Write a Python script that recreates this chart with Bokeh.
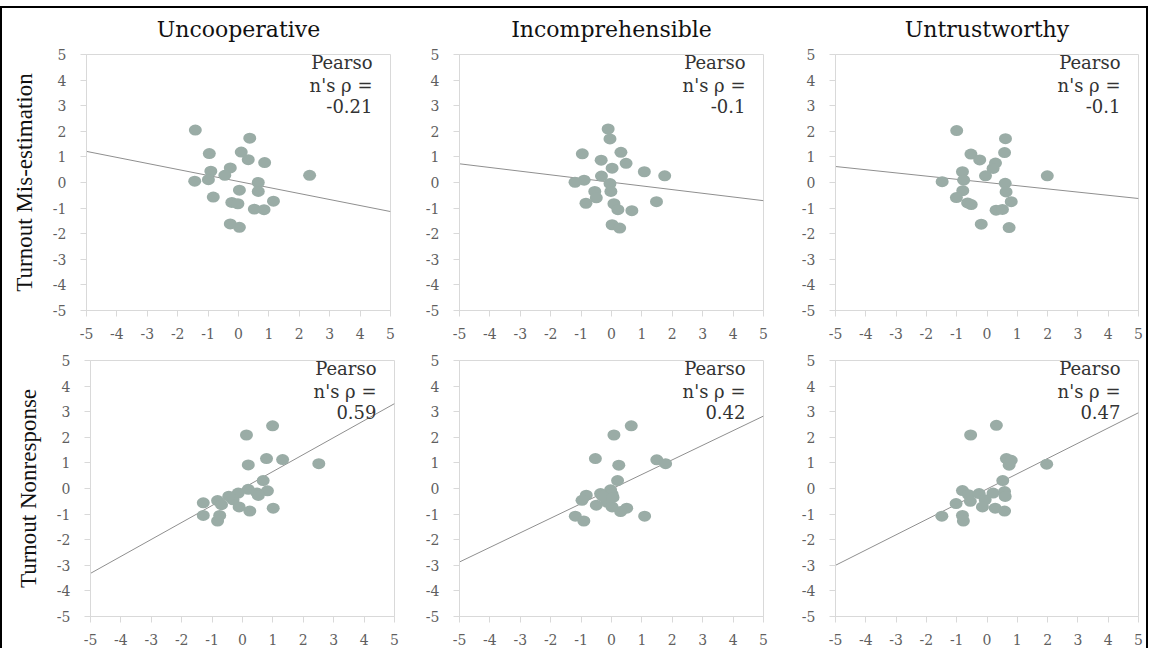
from bokeh.plotting import figure
from bokeh.layouts import column, row
from bokeh.models import FixedTicker, Label, Range1d
from bokeh.embed import file_html
from bokeh.resources import INLINE

# ---------------- data ----------------
categories = ["Uncooperative", "Incomprehensible", "Untrustworthy"]
row_labels = ["Turnout Mis-estimation", "Turnout Nonresponse"]
tick_values = [-5, -4, -3, -2, -1, 0, 1, 2, 3, 4, 5]
tick_labels = ["-5", "-4", "-3", "-2", "-1", "0", "1", "2", "3", "4", "5"]

# Row 1: Turnout Mis-estimation
mis_uncoop_x = [-1.42, 0.37, -0.96, 0.09, 0.32, 0.86, -0.27, -0.91, -0.45, -0.99, -1.44, 2.34,
                0.65, 0.03, 0.65, -0.83, 1.15, -0.22, -0.02, 0.52, 0.84, -0.27, 0.03]
mis_uncoop_y = [2.05, 1.73, 1.13, 1.19, 0.89, 0.78, 0.57, 0.44, 0.28, 0.11, 0.05, 0.28,
                0.00, -0.30, -0.35, -0.57, -0.73, -0.78, -0.83, -1.04, -1.06, -1.62, -1.75]
mis_incomp_x = [-0.11, -0.05, -0.96, 0.31, -0.34, 0.48, 0.02, 1.08, 1.75, -0.33, -0.90, -1.20,
                -0.05, -0.02, -0.55, -0.50, -0.84, 1.48, 0.08, 0.21, 0.67, 0.02, 0.27]
mis_incomp_y = [2.09, 1.70, 1.12, 1.18, 0.87, 0.75, 0.56, 0.42, 0.26, 0.25, 0.09, 0.01,
                -0.04, -0.35, -0.35, -0.60, -0.81, -0.75, -0.83, -1.06, -1.10, -1.65, -1.78]
mis_untrust_x = [-1.00, 0.61, -0.53, 0.58, -0.24, 0.28, 0.20, -0.81, -0.05, 1.99, -0.77, -1.48,
                 0.60, -0.80, 0.63, -1.01, 0.80, -0.64, -0.52, 0.30, 0.51, -0.19, 0.73]
mis_untrust_y = [2.03, 1.71, 1.11, 1.17, 0.88, 0.76, 0.55, 0.42, 0.26, 0.26, 0.09, 0.03,
                 -0.03, -0.32, -0.37, -0.59, -0.75, -0.80, -0.86, -1.08, -1.05, -1.63, -1.76]

# Row 2: Turnout Nonresponse
non_uncoop_x = [0.99, 0.13, 0.19, 0.79, 1.32, 2.51, 0.68, 0.19, -0.14, 0.48, 0.82, 0.52,
                -0.31, -0.82, -1.29, -0.69, -0.11, 0.24, 1.01, -1.29, -0.75, -0.82, -0.45]
non_uncoop_y = [2.45, 2.09, 0.92, 1.17, 1.13, 0.97, 0.31, -0.03, -0.18, -0.18, -0.09, -0.27,
                -0.44, -0.47, -0.56, -0.63, -0.72, -0.88, -0.77, -1.05, -1.05, -1.27, -0.30]
non_incomp_x = [0.65, 0.08, -0.53, 0.24, 1.49, 1.78, 0.20, -0.03, -0.36, 0.02, -0.83, -0.97,
                -0.14, -0.50, 0.02, 0.50, 0.30, 1.09, -1.19, -0.91, -0.30, 0.05]
non_incomp_y = [2.45, 2.09, 1.17, 0.91, 1.12, 0.97, 0.31, -0.05, -0.20, -0.22, -0.26, -0.46,
                -0.54, -0.65, -0.72, -0.77, -0.90, -1.08, -1.08, -1.27, -0.30, -0.35]
non_untrust_x = [0.31, -0.54, 0.64, 0.80, 0.73, 1.97, 0.52, -0.81, -0.61, -0.26, 0.20, 0.58,
                 0.60, -0.06, -0.55, -1.02, -0.15, 0.27, 0.58, -1.49, -0.81, -0.78]
non_untrust_y = [2.47, 2.09, 1.17, 1.10, 0.91, 0.95, 0.31, -0.08, -0.24, -0.20, -0.18, -0.12,
                 -0.31, -0.44, -0.50, -0.59, -0.72, -0.77, -0.88, -1.08, -1.05, -1.27]

rho_mis = ["-0.21", "-0.1", "-0.1"]
rho_non = ["0.59", "0.42", "0.47"]
rho_lines = ["Pearso", "n's \u03c1 ="]

# fitted trend lines: intercept and slope
fit_mis_intercept = [0.04, 0.01, 0.00]
fit_mis_slope = [-0.235, -0.144, -0.125]
fit_non_intercept = [0.00, -0.02, -0.02]
fit_non_slope = [0.663, 0.57, 0.596]

# ---------------- styling ----------------
DOT = "#9aaca6"
LINE = "#8f8f8f"
AXIS = "#d9d9d9"
TICK_TXT = "#5f5f5f"
SERIF = "DejaVu Serif"
G = "linear-gradient(#000,#000)"


def frame_css(top=False, left=False, right=False):
    layers = []
    if top:
        layers.append(f"{G} left 0px top 6px / 100% 2px no-repeat")
    if left:
        layers.append(f"{G} left 0px top {6 if top else 0}px / 2px 100% no-repeat")
    if right:
        layers.append(f"{G} right 0px top {6 if top else 0}px / 2px 100% no-repeat")
    return {"background": ", ".join(layers)} if layers else {}


def make_panel(xs, ys, rho, a, b, width, height, bl, br, bt, bb, css,
               title=None, ylabel=None):
    p = figure(width=width, height=height,
               x_range=Range1d(tick_values[0], tick_values[-1]),
               y_range=Range1d(tick_values[0], tick_values[-1]),
               output_backend="svg", toolbar_location=None,
               min_border_left=bl, min_border_right=br,
               min_border_top=bt, min_border_bottom=bb,
               title=title, styles=css)
    p.grid.visible = False
    p.outline_line_color = AXIS
    p.outline_line_width = 1
    p.background_fill_color = "white"
    p.border_fill_alpha = 0
    for ax in (p.xaxis[0], p.yaxis[0]):
        ax.ticker = FixedTicker(ticks=tick_values)
        ax.major_label_overrides = dict(zip(tick_values, tick_labels))
        ax.axis_line_color = AXIS
        ax.major_tick_line_color = AXIS
        ax.major_tick_out = 6
        ax.major_tick_in = 0
        ax.minor_tick_line_color = None
        ax.major_label_text_font = SERIF
        ax.major_label_text_font_size = "14px"
        ax.major_label_text_color = TICK_TXT
    p.xaxis.major_label_standoff = 11
    p.yaxis.major_label_standoff = 14
    if ylabel:
        p.yaxis.axis_label = ylabel
        p.yaxis.axis_label_text_font = "Liberation Serif"
        p.yaxis.axis_label_text_font_size = "23px"
        p.yaxis.axis_label_text_font_style = "normal"
        p.yaxis.axis_label_text_color = "#111111"
        p.yaxis.axis_label_standoff = 13
    if title:
        p.title.text_font = SERIF
        p.title.text_font_size = "22px"
        p.title.text_font_style = "normal"
        p.title.text_color = "#111111"
        p.title.align = "center"
        p.title.standoff = 25

    lx = [tick_values[0], tick_values[-1]]
    ly = [a + b * v for v in lx]
    p.line(lx, ly, line_color=LINE, line_width=1)
    p.ellipse(xs, ys, width=13, height=11, width_units="screen", height_units="screen",
              fill_color=DOT, line_color=None)
    for k, txt in enumerate(rho_lines + [rho]):
        p.add_layout(Label(x=tick_values[-1], y=tick_values[-1], x_offset=-18,
                           y_offset=3 - 23.5 * k,
                           text=txt, text_align="right", text_baseline="top",
                           text_font=SERIF, text_font_size="18px",
                           text_color="#333333"))
    return p


top_data = [(mis_uncoop_x, mis_uncoop_y), (mis_incomp_x, mis_incomp_y), (mis_untrust_x, mis_untrust_y)]
bot_data = [(non_uncoop_x, non_uncoop_y), (non_incomp_x, non_incomp_y), (non_untrust_x, non_untrust_y)]

TOP_H, BOT_H = 341, 307
widths = [420, 376, 352]
top_borders = [(86, 30), (39, 33), (39, 10)]
bot_borders = [(90, 26), (39, 33), (39, 10)]
top_css = [frame_css(top=True, left=True), frame_css(top=True), frame_css(top=True, right=True)]
bot_css = [frame_css(left=True), {}, frame_css(right=True)]

top_figs = []
bot_figs = []
for i in range(3):
    xs, ys = top_data[i]
    top_figs.append(make_panel(xs, ys, rho_mis[i], fit_mis_intercept[i], fit_mis_slope[i],
                               widths[i], TOP_H, top_borders[i][0], top_borders[i][1], 54, 31,
                               top_css[i],
                               title=categories[i], ylabel=row_labels[0] if i == 0 else None))
    xs, ys = bot_data[i]
    bot_figs.append(make_panel(xs, ys, rho_non[i], fit_non_intercept[i], fit_non_slope[i],
                               widths[i], BOT_H, bot_borders[i][0], bot_borders[i][1], 19, 32,
                               bot_css[i],
                               ylabel=row_labels[1] if i == 0 else None))

layout = column(row(*top_figs), row(*bot_figs))

open("out.html", "w").write(file_html(layout, INLINE))
